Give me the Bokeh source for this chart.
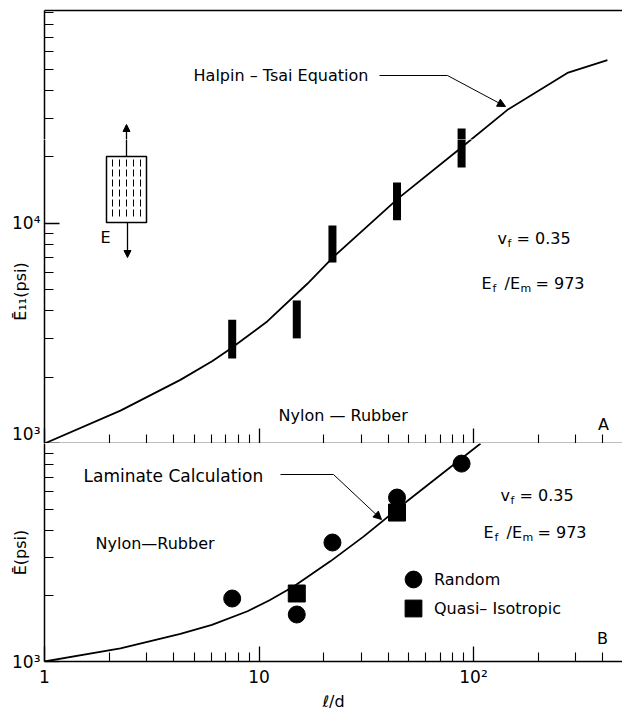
from bokeh.plotting import figure
from bokeh.layouts import column
from bokeh.models import (FixedTicker, Label, Arrow, NormalHead, LogAxis,
                          Legend, LegendItem)
from bokeh.embed import file_html
from bokeh.resources import INLINE

# ---------------- data ----------------
# upper panel: Halpin-Tsai curve and measured ranges of E11
ht_ld = [1, 2.26, 4.3, 6.07, 7.36, 10.96, 16.8, 22.3, 44.7, 87, 144, 274, 421]
ht_e = [1000, 1410, 1945, 2370, 2690, 3590, 5310, 7050, 13000, 21900, 32700, 48100, 55000]
bar_ld = [7.5, 15, 22, 44, 88]
bar_low = [2430, 3000, 6630, 10300, 17900]
bar_high = [3650, 4460, 9760, 15300, 26900]

# lower panel: laminate calculation curve and measured E
lam_ld = [1, 2.26, 4.3, 6.03, 8.84, 11.2, 14.5, 21.5, 30.7, 49.3, 107.9]
lam_e = [1000, 1148, 1340, 1472, 1700, 1910, 2210, 2880, 3740, 5460, 10000]
random_ld = [7.5, 15, 22, 44, 88]
random_e = [1945, 1643, 3514, 5652, 8086]
quasi_ld = [15, 44]
quasi_e = [2051, 4822]

x_major = [1, 10, 100]
x_minor = [2, 3, 4, 5, 6, 7, 8, 9, 20, 30, 40, 50, 60, 70, 80, 90, 200, 300, 400]
x_tick_labels = {1: "1", 10: "10", 100: "10²"}
y1_major = [1e3, 1e4]
y1_minor = [2e3, 3e3, 4e3, 5e3, 6e3, 7e3, 8e3, 9e3, 2e4, 3e4, 4e4, 5e4, 6e4, 7e4, 8e4, 9e4]
y1_labels = {1000: "10³", 10000: "10⁴"}
y2_major = [1e3]
y2_minor = [2e3, 3e3, 4e3, 5e3, 6e3, 7e3, 8e3, 9e3]
y2_labels = {1000: "10³"}

FONT = "DejaVu Sans"
FS = "16px"
TICK_FS = "17px"

# ---------------- geometry helpers (pixel -> data, for annotations) ----------------
X0, XDEC = 44.0, 214.5
def lx(px):
    return 10 ** ((px - X0) / XDEC)
def ty(py):
    return 10 ** (3 + (443 - py) / 220.3)
def by(py):
    return 10 ** (3 + (661 - py) / 218.0)

X_END = lx(622)
SPLIT = 139          # the upper panel is drawn as two stacked strips (for its y title)


def style_axes(p):
    p.grid.visible = False
    p.outline_line_color = None
    p.background_fill_color = "white"
    p.border_fill_color = "white"
    for ax in p.axis:
        ax.axis_line_color = "black"
        ax.axis_line_width = 1.5
        ax.major_tick_line_color = "black"
        ax.major_tick_line_width = 1.3
        ax.minor_tick_line_color = "black"
        ax.minor_tick_line_width = 1.1
        ax.major_tick_in = 15
        ax.major_tick_out = 0
        ax.minor_tick_in = 9
        ax.minor_tick_out = 0
        ax.major_label_text_font = FONT
        ax.major_label_text_font_size = TICK_FS
        ax.major_label_text_color = "black"
        ax.axis_label_text_font = FONT
        ax.axis_label_text_font_size = FS
        ax.axis_label_text_font_style = "normal"
        ax.axis_label_text_color = "black"


def text(p, x, y, s, size=FS, align="left"):
    p.add_layout(Label(x=x, y=y, text=s, text_font=FONT, text_font_size=size,
                       text_color="black", text_align=align, text_baseline="middle"))


def vf_block(p, conv, x0, y0):
    text(p, lx(x0), conv(y0), "v")
    text(p, lx(x0 + 10), conv(y0 + 5), "f", size="11px")
    text(p, lx(x0 + 19), conv(y0), "= 0.35")


def ratio_block(p, conv, x0, y0):
    text(p, lx(x0), conv(y0), "E")
    text(p, lx(x0 + 11), conv(y0 + 5), "f", size="11px")
    text(p, lx(x0 + 23), conv(y0), "/E")
    text(p, lx(x0 + 39), conv(y0 + 5), "m", size="11px")
    text(p, lx(x0 + 54), conv(y0), "= 973")


def upper_marks(p):
    p.line(ht_ld, ht_e, line_color="black", line_width=1.8)
    p.segment(x0=bar_ld, y0=bar_low, x1=bar_ld, y1=bar_high, line_color="black",
              line_width=8, line_cap="butt")


# ---------------- upper panel, top strip ----------------
p1a = figure(x_axis_type="log", y_axis_type="log", x_range=(1, X_END),
             y_range=(ty(SPLIT), ty(10)), x_axis_location=None,
             frame_width=578, frame_height=SPLIT - 10, min_border_left=44, min_border_right=0,
             min_border_top=10, min_border_bottom=0, toolbar_location=None,
             output_backend="svg")
p1a.yaxis.ticker = FixedTicker(ticks=y1_major, minor_ticks=y1_minor)
p1a.yaxis.major_label_overrides = y1_labels
top_axis = LogAxis(ticker=FixedTicker(ticks=[], minor_ticks=[]))
p1a.add_layout(top_axis, "above")
style_axes(p1a)
top_axis.major_label_text_font_size = "0px"
top_axis.major_label_standoff = 0
p1a.yaxis.major_label_standoff = 4
upper_marks(p1a)

text(p1a, lx(373), ty(75), "Halpin – Tsai  Equation", align="right")
p1a.add_layout(Arrow(end=None, x_start=lx(379), y_start=ty(75), x_end=lx(447), y_end=ty(75),
                     line_color="black", line_width=1))
p1a.add_layout(Arrow(end=NormalHead(size=8, fill_color="black", line_color="black"),
                     x_start=lx(447), y_start=ty(75), x_end=lx(505), y_end=ty(106),
                     line_color="black", line_width=1))
p1a.add_layout(Arrow(end=NormalHead(size=7, fill_color="black", line_color="black"),
                     x_start=lx(126), y_start=ty(SPLIT), x_end=lx(126), y_end=ty(124),
                     line_color="black", line_width=1.3))

# ---------------- upper panel, main strip ----------------
p1b = figure(x_axis_type="log", y_axis_type="log", x_range=p1a.x_range,
             y_range=(1000, ty(SPLIT)),
             frame_width=578, frame_height=443 - SPLIT, min_border_left=44, min_border_right=0,
             min_border_top=0, min_border_bottom=0, toolbar_location=None,
             output_backend="svg")
p1b.xaxis.ticker = FixedTicker(ticks=x_major, minor_ticks=x_minor)
p1b.xaxis.major_label_overrides = {1: "", 10: "", 100: ""}
p1b.yaxis.ticker = FixedTicker(ticks=y1_major, minor_ticks=y1_minor)
p1b.yaxis.major_label_overrides = y1_labels
style_axes(p1b)
p1b.xaxis.major_label_text_font_size = "0px"
p1b.xaxis.major_label_standoff = 0
p1b.yaxis.major_label_standoff = 4
p1b.yaxis.axis_label = "Ē₁₁(psi)"
p1b.yaxis.axis_label_standoff = -21
upper_marks(p1b)

text(p1b, lx(278), ty(415), "Nylon — Rubber")
text(p1b, lx(603), ty(424), "A", align="center")
vf_block(p1b, ty, 497, 238)
ratio_block(p1b, ty, 481, 283)

# specimen sketch
p1b.quad(left=[lx(106)], right=[lx(146)], top=[ty(156)], bottom=[ty(222)],
         fill_color=None, line_color="black", line_width=1.5)
sk_x = [112, 119, 126, 133, 140]
p1b.segment(x0=[lx(v) for v in sk_x], y0=[ty(159)] * 5, x1=[lx(v) for v in sk_x],
            y1=[ty(219)] * 5, line_color="black", line_width=1, line_dash="7 3")
p1b.segment(x0=[lx(126)], y0=[ty(156)], x1=[lx(126)], y1=[ty(SPLIT - 2)],
            line_color="black", line_width=1.3)
p1b.add_layout(Arrow(end=NormalHead(size=7, fill_color="black", line_color="black"),
                     x_start=lx(127), y_start=ty(222), x_end=lx(127), y_end=ty(257),
                     line_color="black", line_width=1.3))
text(p1b, lx(105), ty(237), "E", align="center")

# ---------------- lower panel ----------------
p2 = figure(x_axis_type="log", y_axis_type="log", x_range=p1a.x_range, y_range=(1000, 10000),
            frame_width=578, frame_height=218, min_border_left=44, min_border_right=0,
            min_border_top=0, min_border_bottom=48, toolbar_location=None,
            output_backend="svg")
p2.xaxis.ticker = FixedTicker(ticks=x_major, minor_ticks=x_minor)
p2.xaxis.major_label_overrides = x_tick_labels
p2.yaxis.ticker = FixedTicker(ticks=y2_major, minor_ticks=y2_minor)
p2.yaxis.major_label_overrides = y2_labels
style_axes(p2)
p2.yaxis.major_label_standoff = 4
p2.yaxis.axis_label = "Ē(psi)"
p2.yaxis.axis_label_standoff = -21
p2.xaxis.major_label_standoff = 5
p2.xaxis.axis_label = "ℓ/d"
p2.xaxis.axis_label_standoff = 2

p2.line(lam_ld, lam_e, line_color="black", line_width=1.8)
r_rand = p2.scatter(random_ld, random_e, marker="circle", size=17, color="black")
r_quasi = p2.scatter(quasi_ld, quasi_e, marker="square", size=17, color="black")


def legend_row(label, renderer, bottom_offset):
    return Legend(items=[LegendItem(label=label, renderers=[renderer])],
                  location=(348, bottom_offset), glyph_width=42, glyph_height=42,
                  padding=0, margin=0, label_standoff=0, border_line_color=None,
                  background_fill_alpha=0, label_text_font=FONT, label_text_font_size=FS,
                  label_text_color="black", label_height=20)


p2.add_layout(legend_row("Random", r_rand, 61))
p2.add_layout(legend_row("Quasi– Isotropic", r_quasi, 32))

text(p2, lx(83), by(475), "Laminate Calculation", size="17px")
p2.add_layout(Arrow(end=None, x_start=lx(280), y_start=by(474), x_end=lx(333), y_end=by(474),
                    line_color="black", line_width=1))
p2.add_layout(Arrow(end=NormalHead(size=8, fill_color="black", line_color="black"),
                    x_start=lx(333), y_start=by(474), x_end=lx(381), y_end=by(519),
                    line_color="black", line_width=1))
text(p2, lx(95), by(543), "Nylon—Rubber")
text(p2, lx(602), by(638), "B", align="center")
vf_block(p2, by, 500, 495)
ratio_block(p2, by, 483, 532)

layout = column(p1a, p1b, p2, spacing=0)
open("out.html", "w").write(file_html(layout, INLINE))
